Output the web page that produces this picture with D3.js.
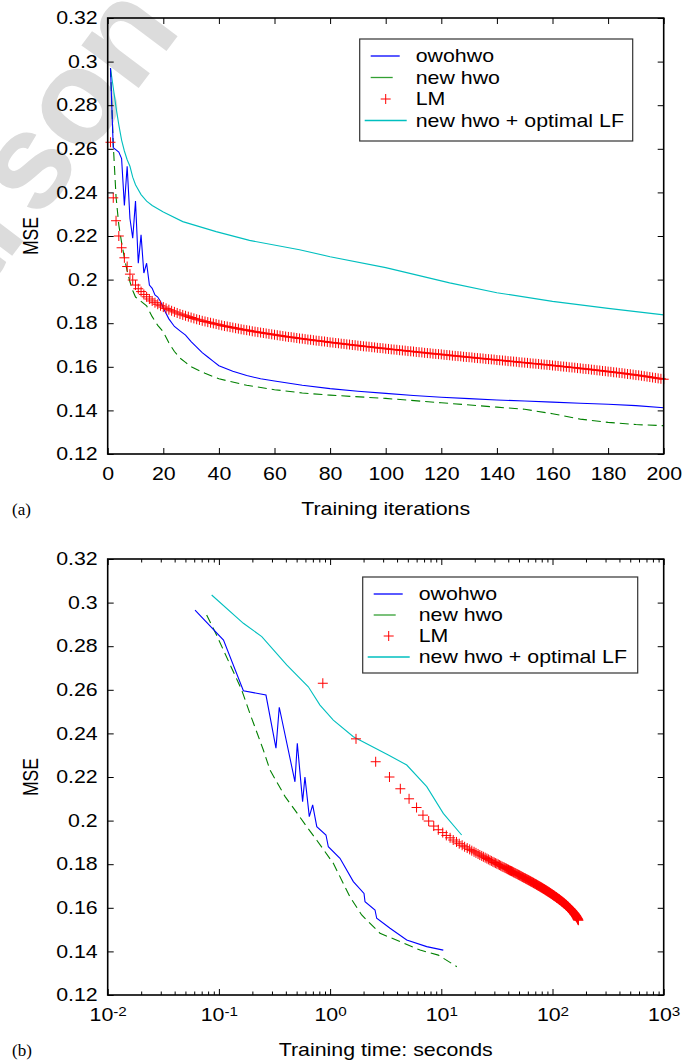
<!DOCTYPE html>
<html>
<head>
<meta charset="utf-8">
<script src="https://cdn.jsdelivr.net/npm/d3@7"></script>
<style>
body { margin: 0; background: #fff; }
svg text { font-family: "Liberation Sans", Arial, Helvetica, sans-serif; fill: #000; }
</style>
</head>
<body>
<svg id="chart" width="696" height="1061"></svg>
<script>
// ---- panel (a): MSE vs training iterations ----
const yTicks = [0.12, 0.14, 0.16, 0.18, 0.2, 0.22, 0.24, 0.26, 0.28, 0.3, 0.32];
const iterTicks = [0, 20, 40, 60, 80, 100, 120, 140, 160, 180, 200];
const timeTicks = [1e-2, 1e-1, 1e0, 1e1, 1e2, 1e3];
const timeExp = ["-2", "-1", "0", "1", "2", "3"];
const seriesNames = ["owohwo", "new hwo", "LM", "new hwo + optimal LF"];

const owoIter = [1,2,3,4,5,6,7,8,9,10,11,12,13,14,15,16,17,18,19,20,22,24,26,28,30,32,34,36,38,40,45,50,55,60,70,80,90,100,110,120,130,140,150,160,170,180,190,200];
const owoMse  = [0.297,0.2605,0.2595,0.2585,0.2555,0.234,0.252,0.228,0.219,0.236,0.2075,0.2205,0.203,0.2075,0.1975,0.196,0.193,0.192,0.190,0.187,0.182,0.1785,0.1765,0.1745,0.1715,0.169,0.1665,0.1645,0.1625,0.1605,0.158,0.156,0.1545,0.1535,0.1515,0.1500,0.1488,0.1478,0.1468,0.146,0.1454,0.1448,0.1443,0.1438,0.1433,0.1428,0.1422,0.1412];

const hwoIter = [1,2,3,4,5,6,7,8,9,10,12,14,16,18,20,22,24,26,28,30,35,40,50,60,70,80,100,120,140,150,160,170,180,190,200];
const hwoMse  = [0.297,0.262,0.238,0.225,0.217,0.210,0.204,0.199,0.195,0.192,0.190,0.188,0.183,0.179,0.176,0.171,0.167,0.164,0.162,0.160,0.157,0.1545,0.1515,0.1495,0.148,0.147,0.1455,0.1435,0.1415,0.1405,0.1385,0.136,0.1345,0.1335,0.133];

const lfIter = [1,2,3,4,5,6,7,8,9,10,12,14,16,20,27,39,51,69,80,100,123,140,160,180,200];
const lfMse  = [0.297,0.288,0.279,0.271,0.264,0.259,0.255,0.252,0.247,0.2435,0.239,0.236,0.234,0.231,0.2266,0.222,0.218,0.2137,0.2105,0.2055,0.1985,0.194,0.190,0.1868,0.1838];

// LM: one value per iteration 1..200
const lmMse = [
  0.263,0.2375,0.227,0.220,0.2146,0.210,0.206,0.2025,0.1998,0.1975,
  0.1958,0.1945,0.1932,0.1921,0.1911,0.1902,0.1894,0.1887,0.1880,0.1874,
  0.1868,0.1862,0.1857,0.1852,0.1847,0.1842,0.1838,0.1834,0.1830,0.1826,
  0.1822,0.1818,0.1815,0.1811,0.1808,0.1805,0.1802,0.1799,0.1796,0.1793,
  0.1790,0.1787,0.1785,0.1782,0.1780,0.1777,0.1775,0.1772,0.1770,0.1768,
  0.1766,0.1763,0.1761,0.1759,0.1757,0.1755,0.1753,0.1751,0.1749,0.1747,
  0.1745,0.1743,0.1741,0.1739,0.1737,0.1736,0.1734,0.1732,0.1730,0.1729,
  0.1727,0.1725,0.1724,0.1722,0.1720,0.1719,0.1717,0.1716,0.1714,0.1712,
  0.1711,0.1709,0.1708,0.1706,0.1705,0.1703,0.1702,0.1700,0.1699,0.1697,
  0.1696,0.1694,0.1693,0.1692,0.1690,0.1689,0.1687,0.1686,0.1685,0.1683,
  0.1682,0.1680,0.1679,0.1678,0.1676,0.1675,0.1674,0.1672,0.1671,0.1670,
  0.1668,0.1667,0.1666,0.1664,0.1663,0.1662,0.1660,0.1659,0.1658,0.1657,
  0.1655,0.1654,0.1653,0.1651,0.1650,0.1649,0.1648,0.1646,0.1645,0.1644,
  0.1643,0.1641,0.1640,0.1639,0.1638,0.1636,0.1635,0.1634,0.1633,0.1631,
  0.1630,0.1629,0.1628,0.1626,0.1625,0.1624,0.1623,0.1621,0.1620,0.1619,
  0.1618,0.1616,0.1615,0.1614,0.1613,0.1611,0.1610,0.1609,0.1608,0.1606,
  0.1605,0.1604,0.1602,0.1601,0.1600,0.1598,0.1597,0.1596,0.1594,0.1593,
  0.1591,0.1590,0.1589,0.1587,0.1586,0.1584,0.1583,0.1581,0.1580,0.1578,
  0.1577,0.1575,0.1574,0.1572,0.1571,0.1569,0.1567,0.1566,0.1564,0.1562,
  0.1561,0.1559,0.1557,0.1555,0.1553,0.1551,0.1549,0.1547,0.1545,0.1543
];

// ---- panel (b): MSE vs training time (seconds) ----
const owoTime = [0.061,0.11,0.166,0.265,0.326,0.349,0.483,0.507,0.566,0.594,0.65,0.697,0.759,0.918,0.964,1.227,1.618,2.018,2.061,2.535,2.624,3.459,4.887,7.396,10.42];
const owoMseT = [0.2966,0.2828,0.2596,0.2576,0.2332,0.252,0.2178,0.2355,0.2087,0.22,0.2018,0.2072,0.1972,0.1934,0.188,0.1827,0.172,0.1666,0.1628,0.159,0.1552,0.1506,0.1452,0.1422,0.1406];

const hwoTime = [0.0776,0.0955,0.160,0.1905,0.251,0.288,0.394,0.483,0.617,0.759,1.069,1.51,1.923,2.81,4.26,6.44,9.4,13.8];
const hwoMseT = [0.2943,0.285,0.26,0.249,0.2324,0.2232,0.211,0.2048,0.1972,0.191,0.1804,0.165,0.1567,0.1483,0.1445,0.1406,0.1383,0.133];

const lfTime = [0.0861,0.166,0.243,0.407,0.637,0.811,1.069,1.618,3.34,4.89,7.4,10.42,15.24];
const lfMseT = [0.3035,0.2905,0.2844,0.2714,0.2614,0.253,0.2461,0.2385,0.2301,0.2255,0.2156,0.2033,0.1934];

// LM time stamp of each iteration 1..200
const lmTime = [
  0.86,1.71,2.57,3.42,4.28,5.13,5.99,6.84,7.7,8.55,
  9.4,10.3,11.1,12,12.8,13.7,14.5,15.4,16.2,17.1,
  18,18.8,19.7,20.5,21.4,22.2,23.1,23.9,24.8,25.7,
  26.5,27.4,28.2,29.1,29.9,30.8,31.6,32.5,33.3,34.2,
  35.1,35.9,36.8,37.6,38.5,39.3,40.2,41,41.9,42.8,
  43.6,44.5,45.3,46.2,47,47.9,48.7,49.6,50.4,51.3,
  52.2,53,53.9,54.7,55.6,56.4,57.3,58.1,59,59.9,
  60.7,61.6,62.4,63.3,64.1,65,65.8,66.7,67.5,68.4,
  69.3,70.1,71,71.8,72.7,73.5,74.4,75.2,76.1,77,
  77.8,78.7,79.5,80.4,81.2,82.1,82.9,83.8,84.6,85.5,
  86.4,87.2,88.1,88.9,89.8,90.6,91.5,92.3,93.2,94.1,
  94.9,95.8,96.6,97.5,98.3,99.2,100,101,102,103,
  103,104,105,106,107,108,109,109,110,111,
  112,113,114,115,115,116,117,118,119,120,
  121,121,122,123,124,125,126,127,127,128,
  129,130,131,132,133,133,134,135,136,137,
  138,139,139,140,141,142,143,144,145,145,
  146,147,148,149,150,151,151,152,153,154,
  155,156,157,157,158,159,160,161,162,163,
  163,164,165,166,167,168,168,169,170,171
];

const colors = { owo: "#0000ff", hwo: "#008000", lm: "#ff0000", lf: "#00bfbf" };
const SX = 1.22;      // the original figure's text is wide for its height
const FS = "17.5px";

const svg = d3.select("#chart");

// faint watermark behind the plots
svg.append("text")
  .attr("transform", "translate(-138,455) rotate(-53)")
  .style("font-weight", "bold")
  .style("font-size", "135px")
  .style("fill", "#dcdcdc")
  .text("Pearson");

const W = 556, H = 436, left = 107.7;

function drawPanel(top, xScale, opts) {
  const y = d3.scaleLinear().domain([0.12, 0.32]).range([H, 0]);
  const g = svg.append("g").attr("transform", `translate(${left},${top})`);

  // series
  const lineOf = (xs, ys) => d3.line().x((d, i) => xScale(xs[i])).y((d, i) => y(ys[i]))(ys);

  g.append("path").attr("d", lineOf(opts.lfX, opts.lfY))
    .attr("fill", "none").attr("stroke", colors.lf).attr("stroke-width", 1.1);
  g.append("path").attr("d", lineOf(opts.hwoX, opts.hwoY))
    .attr("fill", "none").attr("stroke", colors.hwo).attr("stroke-width", 1.1)
    .attr("stroke-dasharray", "9,5");
  g.append("path").attr("d", lineOf(opts.owoX, opts.owoY))
    .attr("fill", "none").attr("stroke", colors.owo).attr("stroke-width", 1.1);

  g.append("g").selectAll("path")
    .data(lmMse)
    .join("path")
    .attr("transform", (d, i) => `translate(${xScale(opts.lmX[i])},${y(d)})`)
    .attr("d", "M-5,0H5M0,-5V5")
    .attr("stroke", colors.lm).attr("stroke-width", 1).attr("fill", "none");

  // axes: ticks inward on all four sides
  const yl = g.append("g").call(d3.axisLeft(y).tickValues(yTicks).tickSize(-6).tickSizeOuter(0).tickPadding(10)
    .tickFormat(d => String(+d.toFixed(2))));
  yl.selectAll(".tick text").attr("x", -10 / SX);
  g.append("g").attr("transform", `translate(${W},0)`)
    .call(d3.axisRight(y).tickValues(yTicks).tickSize(-6).tickSizeOuter(0).tickFormat(""));

  const xb = d3.axisBottom(xScale).tickValues(opts.xTicks).tickSize(-6).tickSizeOuter(0).tickPadding(14);
  const xt = d3.axisTop(xScale).tickValues(opts.xTicks).tickSize(-6).tickSizeOuter(0).tickFormat("");
  const xl = g.append("g").attr("transform", `translate(0,${H})`).call(xb);
  g.append("g").call(xt);

  if (opts.minor) {
    g.append("g").attr("transform", `translate(0,${H})`)
      .call(d3.axisBottom(xScale).tickValues(opts.minor).tickSize(-3.5).tickSizeOuter(0).tickFormat(""));
    g.append("g")
      .call(d3.axisTop(xScale).tickValues(opts.minor).tickSize(-3.5).tickSizeOuter(0).tickFormat(""));
  }

  g.selectAll(".domain").remove();
  g.selectAll(".tick line").attr("stroke", "#000").attr("stroke-width", 1);
  g.selectAll(".tick text").style("font-size", FS).attr("fill", "#000")
    .attr("transform", `scale(${SX},1)`);

  if (opts.logLabels) {
    xl.selectAll(".tick text").each(function (d, i) {
      const t = d3.select(this).text("");
      t.append("tspan").text("10");
      t.append("tspan").attr("dy", "-0.45em").style("font-size", "12.5px").text(timeExp[i]);
    });
  }

  g.append("rect").attr("width", W).attr("height", H)
    .attr("fill", "none").attr("stroke", "#000").attr("stroke-width", 1.6);

  // axis titles
  g.append("text").attr("transform", `translate(${W / 2},${H + 61}) scale(${SX},1)`)
    .attr("text-anchor", "middle").style("font-size", FS).text(opts.xTitle);
  g.append("text").attr("transform", `translate(-70,${H / 2}) rotate(-90) scale(1,${SX})`)
    .attr("text-anchor", "middle").style("font-size", FS).text("MSE");
  svg.append("text").attr("x", 12).attr("y", top + H + 61)
    .style("font-family", "'Liberation Serif', 'Times New Roman', serif").style("font-size", "17px")
    .text(opts.tag);

  // legend
  const lg = g.append("g").attr("transform", `translate(${opts.legend.x},${opts.legend.y})`);
  lg.append("rect").attr("width", opts.legend.w).attr("height", opts.legend.h)
    .attr("fill", "#fff").attr("stroke", "#333").attr("stroke-width", 1.2);
  const rowY = d3.range(4).map(i => 17 + i * opts.legend.step);
  const sampleX = [[11, 40], [11, 33], null, [5, 47]];
  const sampleC = [colors.owo, "#33a033", colors.lm, colors.lf];
  seriesNames.forEach((name, i) => {
    if (sampleX[i]) {
      lg.append("line").attr("x1", sampleX[i][0]).attr("x2", sampleX[i][1])
        .attr("y1", rowY[i]).attr("y2", rowY[i]).attr("stroke", sampleC[i]).attr("stroke-width", 1.3);
    } else {
      lg.append("path").attr("transform", `translate(26,${rowY[i]})`).attr("d", "M-5,0H5M0,-5V5")
        .attr("stroke", colors.lm).attr("fill", "none");
    }
    lg.append("text").attr("transform", `translate(56,${rowY[i]}) scale(${SX},1)`).attr("dy", "0.35em")
      .style("font-size", FS).text(name);
  });
}

const xIter = d3.scaleLinear().domain([0, 200]).range([0, W]);
drawPanel(18, xIter, {
  owoX: owoIter, owoY: owoMse,
  hwoX: hwoIter, hwoY: hwoMse,
  lfX: lfIter, lfY: lfMse,
  lmX: d3.range(1, 201),
  xTicks: iterTicks,
  xTitle: "Training iterations",
  tag: "(a)",
  legend: { x: 252, y: 21, w: 273, h: 102, step: 21.5 }
});

const xTime = d3.scaleLog().domain([1e-2, 1e3]).range([0, W]);
const minorTicks = [];
timeTicks.slice(0, -1).forEach(p => d3.range(2, 10).forEach(m => minorTicks.push(p * m)));
drawPanel(559, xTime, {
  owoX: owoTime, owoY: owoMseT,
  hwoX: hwoTime, hwoY: hwoMseT,
  lfX: lfTime, lfY: lfMseT,
  lmX: lmTime,
  xTicks: timeTicks,
  minor: minorTicks,
  logLabels: true,
  xTitle: "Training time: seconds",
  tag: "(b)",
  legend: { x: 255, y: 18, w: 275, h: 96, step: 21 }
});
</script>
</body>
</html>
